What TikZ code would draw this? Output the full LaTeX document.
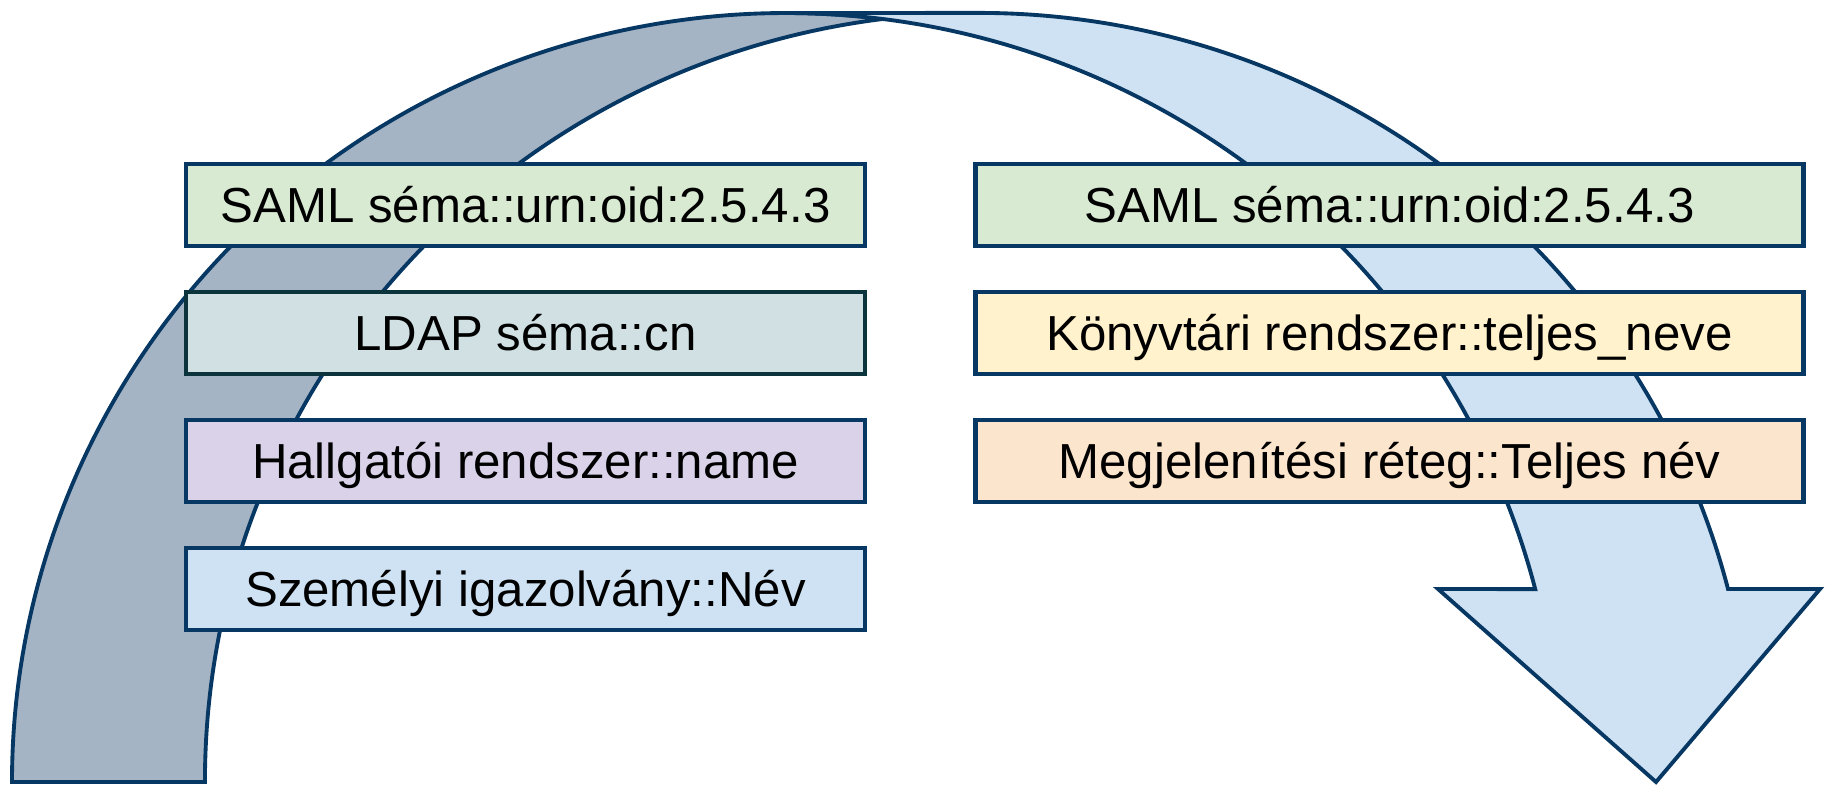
\documentclass[tikz,border=0pt]{standalone}
\usepackage{fontspec}
\setmainfont{Liberation Sans}

\definecolor{navy}{RGB}{7,55,99}
\definecolor{darkteal}{RGB}{12,52,61}
\definecolor{backband}{RGB}{165,180,196}
\definecolor{frontband}{RGB}{207,226,243}
\definecolor{green3}{RGB}{217,234,211}
\definecolor{cyan3}{RGB}{208,224,227}
\definecolor{purple3}{RGB}{217,210,233}
\definecolor{blue3}{RGB}{207,226,243}
\definecolor{yellow3}{RGB}{255,242,204}
\definecolor{orange3}{RGB}{252,229,205}

\begin{document}
\begin{tikzpicture}[field/.style={draw=navy,line width=1.4pt,minimum height=0.82cm,inner sep=0pt,text height=10pt,text depth=0pt,font=\fontsize{14}{16}\selectfont},
	band/.style={draw=navy,line width=1.1pt,line join=miter}]

\useasboundingbox (0,0) rectangle (18.25,-7.85);

% back of the curved arrow
\draw [band,fill=backband] (0.12,-7.82)
	arc [start angle=180,end angle=82.84,x radius=7.74,y radius=7.69]
	arc [start angle=97.16,end angle=180,x radius=7.74,y radius=7.69] -- cycle;

% front of the curved arrow, with its head
\draw [band,fill=frontband] (7.86,-0.13)
	arc [start angle=90,end angle=14.53,x radius=7.74,y radius=7.69]
	-- (14.38,-5.89) -- (16.56,-7.82) -- (18.20,-5.89) -- (17.28,-5.89)
	arc [start angle=14.53,end angle=90,x radius=7.74,y radius=7.69] -- cycle;

%%%%%%%%%%%%%%%%%%%%%%%%%%%%%%%%%%%%%%%%%%%%%%%%%%%%%%%%%%%%%%%%

\foreach \i/\f/\d/\t in {1/green3/navy/{SAML séma::urn:oid:2.5.4.3},2/cyan3/darkteal/{LDAP séma::cn},3/purple3/navy/{Hallgatói rendszer::name},4/blue3/navy/{Személyi igazolvány::Név}} {
	\node [field,fill=\f,draw=\d,minimum width=6.79cm] at (5.255,{-0.77-1.28*\i}) (l\i) {\t};
}

\foreach \i/\f/\t in {1/green3/{SAML séma::urn:oid:2.5.4.3},2/yellow3/{Könyvtári rendszer::teljes\_neve},3/orange3/{Megjelenítési réteg::Teljes név}} {
	\node [field,fill=\f,minimum width=8.28cm] at (13.895,{-0.77-1.28*\i}) (r\i) {\t};
}

\end{tikzpicture}
\end{document}
